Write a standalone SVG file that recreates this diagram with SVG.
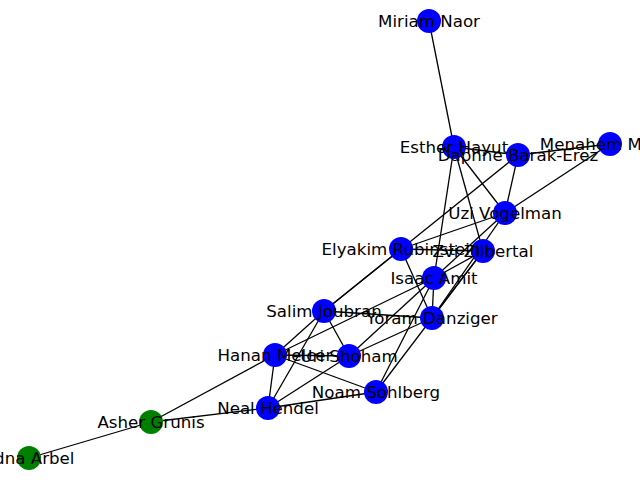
<svg xmlns="http://www.w3.org/2000/svg" width="640" height="480" viewBox="0 0 640 480">
<style>
.e line{stroke:#000;stroke-width:1.3}
.n circle{stroke:none}
.b{fill:#0000ff}
.g{fill:#008000}
text{font-family:"DejaVu Sans",sans-serif;font-size:16.67px;fill:#000;text-anchor:middle;dominant-baseline:central}
</style>
<rect width="640" height="480" fill="#fff"/>
<g id="edges" class="e">
<line x1="429" y1="21" x2="454" y2="147"/>
<line x1="454" y1="147" x2="518" y2="155"/>
<line x1="518" y1="155" x2="610" y2="144"/>
<line x1="454" y1="147" x2="505" y2="213"/>
<line x1="454" y1="147" x2="483" y2="251"/>
<line x1="454" y1="147" x2="434" y2="278"/>
<line x1="518" y1="155" x2="505" y2="213"/>
<line x1="518" y1="155" x2="324" y2="311"/>
<line x1="610" y1="144" x2="505" y2="213"/>
<line x1="505" y1="213" x2="401" y2="249"/>
<line x1="505" y1="213" x2="434" y2="278"/>
<line x1="505" y1="213" x2="432" y2="318"/>
<line x1="401" y1="249" x2="483" y2="251"/>
<line x1="401" y1="249" x2="324" y2="311"/>
<line x1="401" y1="249" x2="432" y2="318"/>
<line x1="483" y1="251" x2="434" y2="278"/>
<line x1="483" y1="251" x2="432" y2="318"/>
<line x1="483" y1="251" x2="376" y2="392"/>
<line x1="434" y1="278" x2="432" y2="318"/>
<line x1="434" y1="278" x2="349" y2="356"/>
<line x1="434" y1="278" x2="376" y2="392"/>
<line x1="434" y1="278" x2="275" y2="355"/>
<line x1="324" y1="311" x2="432" y2="318"/>
<line x1="324" y1="311" x2="349" y2="356"/>
<line x1="324" y1="311" x2="275" y2="355"/>
<line x1="324" y1="311" x2="268" y2="408"/>
<line x1="432" y1="318" x2="349" y2="356"/>
<line x1="275" y1="355" x2="349" y2="356"/>
<line x1="275" y1="355" x2="376" y2="392"/>
<line x1="275" y1="355" x2="268" y2="408"/>
<line x1="275" y1="355" x2="151" y2="422"/>
<line x1="349" y1="356" x2="268" y2="408"/>
<line x1="376" y1="392" x2="268" y2="408"/>
<line x1="268" y1="408" x2="151" y2="422"/>
<line x1="151" y1="422" x2="29" y2="458"/>
</g>
<g id="miriam-naor" class="n"><circle class="b" cx="429" cy="21" r="12"/><text x="429" y="21">Miriam Naor</text></g>
<g id="esther-hayut" class="n"><circle class="b" cx="454" cy="147" r="12"/></g>
<g id="daphne-barak-erez" class="n"><circle class="b" cx="518" cy="155" r="12"/></g>
<g id="menahem-mazuz" class="n"><circle class="b" cx="610" cy="144" r="12"/></g>
<g id="uzi-vogelman" class="n"><circle class="b" cx="505" cy="213" r="12"/></g>
<g id="elyakim-rubinstein" class="n"><circle class="b" cx="401" cy="249" r="12"/></g>
<g id="zvi-zilbertal" class="n"><circle class="b" cx="483" cy="251" r="12"/></g>
<g id="isaac-amit" class="n"><circle class="b" cx="434" cy="278" r="12"/></g>
<g id="salim-joubran" class="n"><circle class="b" cx="324" cy="311" r="12"/></g>
<g id="yoram-danziger" class="n"><circle class="b" cx="432" cy="318" r="12"/></g>
<g id="hanan-melcer" class="n"><circle class="b" cx="275" cy="355" r="12"/></g>
<g id="uri-shoham" class="n"><circle class="b" cx="349" cy="356" r="12"/></g>
<g id="noam-sohlberg" class="n"><circle class="b" cx="376" cy="392" r="12"/></g>
<g id="neal-hendel" class="n"><circle class="b" cx="268" cy="408" r="12"/></g>
<g id="asher-grunis" class="n"><circle class="g" cx="151" cy="422" r="12"/></g>
<g id="edna-arbel" class="n"><circle class="g" cx="29" cy="458" r="12"/></g>
<g id="labels">
<text x="454" y="147">Esther Hayut</text>
<text x="518" y="155">Daphne Barak-Erez</text>
<text x="610" y="144">Menahem Mazuz</text>
<text x="505" y="213">Uzi Vogelman</text>
<text x="401" y="249">Elyakim Rubinstein</text>
<text x="483" y="251">Zvi Zilbertal</text>
<text x="434" y="278">Isaac Amit</text>
<text x="324" y="311">Salim Joubran</text>
<text x="432" y="318">Yoram Danziger</text>
<text x="275" y="355">Hanan Melcer</text>
<text x="349" y="356">Uri Shoham</text>
<text x="376" y="392">Noam Sohlberg</text>
<text x="268" y="408">Neal Hendel</text>
<text x="151" y="422">Asher Grunis</text>
<text x="29" y="458">Edna Arbel</text>
</g>
</svg>
